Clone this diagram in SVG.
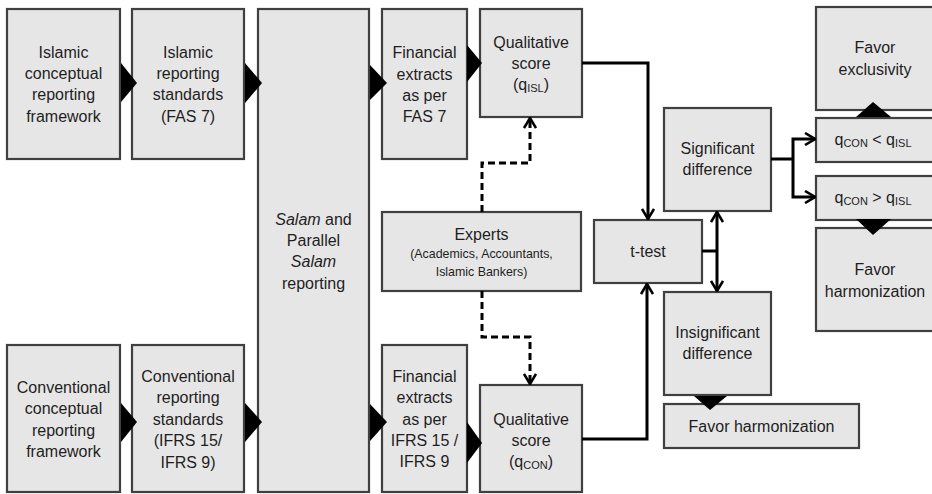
<svg xmlns="http://www.w3.org/2000/svg" width="932" height="494" viewBox="0 0 932 494">
<defs>
<style>
.box{fill:#e7e6e6;stroke:#404040;stroke-width:2.2}
.t{font-family:"Liberation Sans",Arial,sans-serif;font-size:16px;fill:#1e1e1e;text-anchor:middle}
.s{font-size:12.4px}
.sub{font-size:11px}
.it{font-style:italic}
.tri{fill:#000}
.c{fill:none;stroke:#000;stroke-width:3}
.d{fill:none;stroke:#000;stroke-width:3;stroke-dasharray:7,4}
</style>
<marker id="ah" viewBox="0 0 12 14" refX="11" refY="7" markerWidth="12" markerHeight="14" markerUnits="userSpaceOnUse" orient="auto">
<path d="M1,1 L11,7 L1,13" fill="none" stroke="#000" stroke-width="2.6"/>
</marker>
</defs>

<g id="n-islamic-framework">
<rect class="box" x="7" y="9" width="113" height="150"/>
<text class="t" x="63.5" y="58">Islamic</text>
<text class="t" x="63.5" y="79">conceptual</text>
<text class="t" x="63.5" y="100">reporting</text>
<text class="t" x="63.5" y="122">framework</text>
</g>
<g id="n-islamic-standards">
<rect class="box" x="132" y="9" width="112" height="150"/>
<text class="t" x="188" y="58">Islamic</text>
<text class="t" x="188" y="79">reporting</text>
<text class="t" x="188" y="100">standards</text>
<text class="t" x="188" y="122">(FAS 7)</text>
</g>
<g id="n-salam">
<rect class="box" x="258" y="9" width="111" height="483"/>
<text class="t" x="313.5" y="225"><tspan class="it">Salam</tspan> and</text>
<text class="t" x="313.5" y="246">Parallel</text>
<text class="t it" x="313.5" y="267">Salam</text>
<text class="t" x="313.5" y="289">reporting</text>
</g>
<g id="n-fe-fas">
<rect class="box" x="382" y="9" width="85" height="150"/>
<text class="t" x="424.5" y="58">Financial</text>
<text class="t" x="424.5" y="80">extracts</text>
<text class="t" x="424.5" y="101">as per</text>
<text class="t" x="424.5" y="122">FAS 7</text>
</g>
<g id="n-qs-isl">
<rect class="box" x="480" y="9" width="102" height="108"/>
<text class="t" x="531" y="48">Qualitative</text>
<text class="t" x="531" y="69">score</text>
<text class="t" x="531" y="90">(q<tspan class="sub" dy="2">ISL</tspan><tspan dy="-2">)</tspan></text>
</g>
<g id="n-experts">
<rect class="box" x="382" y="212" width="199" height="79"/>
<text class="t" x="481.5" y="240">Experts</text>
<text class="t s" x="481.5" y="258">(Academics, Accountants,</text>
<text class="t s" x="481.5" y="276">Islamic Bankers)</text>
</g>
<g id="n-conv-framework">
<rect class="box" x="7" y="345" width="113" height="147"/>
<text class="t" x="63.5" y="393">Conventional</text>
<text class="t" x="63.5" y="414">conceptual</text>
<text class="t" x="63.5" y="436">reporting</text>
<text class="t" x="63.5" y="457">framework</text>
</g>
<g id="n-conv-standards">
<rect class="box" x="132" y="345" width="112" height="147"/>
<text class="t" x="188" y="382">Conventional</text>
<text class="t" x="188" y="403">reporting</text>
<text class="t" x="188" y="425">standards</text>
<text class="t" x="188" y="446">(IFRS 15/</text>
<text class="t" x="188" y="468">IFRS 9)</text>
</g>
<g id="n-fe-ifrs">
<rect class="box" x="382" y="345" width="85" height="147"/>
<text class="t" x="424.5" y="382">Financial</text>
<text class="t" x="424.5" y="403">extracts</text>
<text class="t" x="424.5" y="425">as per</text>
<text class="t" x="424.5" y="446">IFRS 15 /</text>
<text class="t" x="424.5" y="467">IFRS 9</text>
</g>
<g id="n-qs-con">
<rect class="box" x="480" y="385" width="102" height="107"/>
<text class="t" x="531" y="425">Qualitative</text>
<text class="t" x="531" y="446">score</text>
<text class="t" x="531" y="467">(q<tspan class="sub" dy="2">CON</tspan><tspan dy="-2">)</tspan></text>
</g>
<g id="n-ttest">
<rect class="box" x="594" y="220" width="108" height="63"/>
<text class="t" x="648" y="257">t-test</text>
</g>
<g id="n-sig">
<rect class="box" x="664" y="108" width="107" height="103"/>
<text class="t" x="717.5" y="154">Significant</text>
<text class="t" x="717.5" y="175">difference</text>
</g>
<g id="n-insig">
<rect class="box" x="664" y="292" width="107" height="103"/>
<text class="t" x="717.5" y="338">Insignificant</text>
<text class="t" x="717.5" y="359">difference</text>
</g>
<g id="n-favor-harm-bottom">
<rect class="box" x="664" y="404" width="195" height="44"/>
<text class="t" x="761.5" y="432">Favor harmonization</text>
</g>
<g id="n-favor-excl">
<rect class="box" x="816" y="7" width="120" height="103"/>
<text class="t" x="875" y="53">Favor</text>
<text class="t" x="875" y="75">exclusivity</text>
</g>
<g id="n-lt">
<rect class="box" x="816" y="118" width="120" height="44"/>
<text class="t" x="873" y="145">q<tspan class="sub" dy="2">CON</tspan><tspan dy="-2"> &lt; q</tspan><tspan class="sub" dy="2">ISL</tspan></text>
</g>
<g id="n-gt">
<rect class="box" x="816" y="176" width="120" height="44"/>
<text class="t" x="873" y="203">q<tspan class="sub" dy="2">CON</tspan><tspan dy="-2"> &gt; q</tspan><tspan class="sub" dy="2">ISL</tspan></text>
</g>
<g id="n-favor-harm-right">
<rect class="box" x="816" y="228" width="120" height="103"/>
<text class="t" x="875" y="275">Favor</text>
<text class="t" x="875" y="297">harmonization</text>
</g>

<g id="connectors">
<polygon class="tri" points="121,63 137,83 121,102"/>
<polygon class="tri" points="245,63 262,83 245,103"/>
<polygon class="tri" points="370,65 387,83 370,100"/>
<polygon class="tri" points="467,45 482,63 467,82"/>
<polygon class="tri" points="121,403 137,422 121,442"/>
<polygon class="tri" points="245,403 262,422 245,442"/>
<polygon class="tri" points="370,404 387,422 370,441"/>
<polygon class="tri" points="467,422 482,443 467,463"/>
<polygon class="tri" points="856,117 873,102 891,117"/>
<polygon class="tri" points="856,219 873,235 891,219"/>
<polygon class="tri" points="694,396 710,410 727,396"/>
<path class="c" d="M582,63 H648 V219" marker-end="url(#ah)"/>
<path class="c" d="M582,439 H647 V284" marker-end="url(#ah)"/>
<path class="c" d="M702,251 H717"/>
<path class="c" d="M717,251 V212" marker-end="url(#ah)"/>
<path class="c" d="M717,251 V291" marker-end="url(#ah)"/>
<path class="c" d="M771,159 H793"/>
<path class="c" d="M793,159 V139 H815" marker-end="url(#ah)"/>
<path class="c" d="M793,159 V197 H815" marker-end="url(#ah)"/>
<path class="d" d="M482,212 V163 H530 V118" marker-end="url(#ah)"/>
<path class="d" d="M482,291 V337 H530 V384" marker-end="url(#ah)"/>
</g>
</svg>
